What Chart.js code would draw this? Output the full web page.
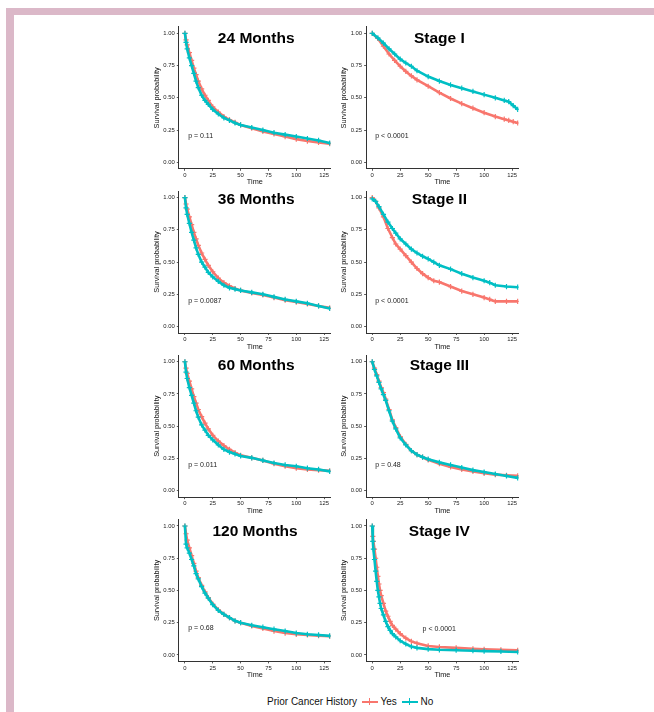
<!DOCTYPE html>
<html>
<head>
<meta charset="utf-8">
<script src="https://cdn.jsdelivr.net/npm/chart.js@4.4.0/dist/chart.umd.min.js"></script>
<style>
  body { margin: 0; width: 654px; height: 712px; background: #fff; position: relative; overflow: hidden;
         font-family: "Liberation Sans", Arial, sans-serif; }
  .frame-top { position: absolute; left: 6px; top: 8px; width: 648px; height: 7px; background: #dbb8c8; }
  .frame-left { position: absolute; left: 6px; top: 8px; width: 8px; height: 704px; background: #dbb8c8; }
  canvas.panel { position: absolute; }
  .lg { position: absolute; top: 696px; font-size: 10px; line-height: 12px; color: #111; white-space: nowrap; }
  .key { position: absolute; top: 700.7px; width: 16px; height: 2px; }
  .key::after { content: ""; position: absolute; left: 7.3px; top: -2.5px; width: 1.4px; height: 7px; background: inherit; }
</style>
</head>
<body>
<div class="frame-top"></div>
<div class="frame-left"></div>

<span class="lg" style="left:267px">Prior Cancer History</span>
<span class="key" style="left:361.5px;background:#F8766D"></span>
<span class="lg" style="left:380.5px">Yes</span>
<span class="key" style="left:401.5px;background:#00BFC4"></span>
<span class="lg" style="left:420.5px">No</span>

<script>
// ---- data ----
const xTicks = [0, 25, 50, 75, 100, 125];
const yTicks = [0, 0.25, 0.5, 0.75, 1];

const timeM24 = [0, 1, 2, 4, 6, 8, 10, 12, 15, 18, 21, 25, 30, 35, 40, 45, 50, 60, 70, 80, 90, 100, 110, 120, 130];
const yesM24  = [1, 0.95, 0.91, 0.85, 0.79, 0.73, 0.68, 0.63, 0.57, 0.52, 0.48, 0.43, 0.39, 0.355, 0.33, 0.31, 0.29, 0.265, 0.24, 0.22, 0.2, 0.18, 0.165, 0.155, 0.145];
const noM24   = [1, 0.93, 0.88, 0.81, 0.75, 0.69, 0.63, 0.58, 0.52, 0.48, 0.45, 0.41, 0.375, 0.345, 0.325, 0.305, 0.29, 0.27, 0.25, 0.23, 0.215, 0.2, 0.185, 0.17, 0.15];

const timeS1 = [0, 5, 10, 15, 20, 25, 30, 35, 40, 50, 60, 70, 80, 90, 100, 110, 118, 122, 126, 130];
const yesS1  = [1, 0.96, 0.9, 0.84, 0.79, 0.745, 0.705, 0.67, 0.64, 0.59, 0.54, 0.495, 0.455, 0.42, 0.385, 0.355, 0.335, 0.325, 0.315, 0.305];
const noS1   = [1, 0.965, 0.925, 0.88, 0.84, 0.8, 0.77, 0.745, 0.71, 0.665, 0.63, 0.6, 0.575, 0.55, 0.525, 0.5, 0.48, 0.47, 0.44, 0.41];

const timeM36 = [0, 1, 2, 4, 6, 8, 10, 12, 15, 18, 21, 25, 30, 35, 40, 45, 50, 60, 70, 80, 90, 100, 110, 120, 130];
const yesM36  = [1, 0.95, 0.91, 0.85, 0.79, 0.73, 0.68, 0.63, 0.57, 0.52, 0.475, 0.425, 0.375, 0.34, 0.315, 0.295, 0.28, 0.26, 0.245, 0.225, 0.205, 0.19, 0.175, 0.16, 0.145];
const noM36   = [1, 0.92, 0.87, 0.8, 0.73, 0.67, 0.61, 0.56, 0.5, 0.46, 0.42, 0.385, 0.35, 0.32, 0.3, 0.29, 0.28, 0.265, 0.25, 0.23, 0.21, 0.195, 0.18, 0.16, 0.14];

const timeS2 = [0, 3, 6, 10, 14, 18, 21, 25, 30, 35, 40, 45, 50, 55, 60, 70, 80, 90, 100, 105, 110, 120, 130];
const yesS2  = [1, 0.97, 0.92, 0.85, 0.76, 0.69, 0.64, 0.6, 0.55, 0.5, 0.45, 0.41, 0.38, 0.355, 0.345, 0.31, 0.275, 0.25, 0.225, 0.21, 0.195, 0.195, 0.195];
const noS2   = [0.99, 0.97, 0.93, 0.87, 0.81, 0.76, 0.725, 0.68, 0.64, 0.6, 0.57, 0.545, 0.525, 0.5, 0.475, 0.445, 0.41, 0.38, 0.355, 0.34, 0.32, 0.31, 0.305];

const timeM60 = [0, 1, 2, 4, 6, 8, 10, 12, 15, 18, 21, 25, 30, 35, 40, 45, 50, 60, 70, 80, 90, 100, 110, 120, 130];
const yesM60  = [1, 0.95, 0.91, 0.85, 0.79, 0.73, 0.68, 0.63, 0.575, 0.525, 0.48, 0.43, 0.385, 0.35, 0.32, 0.295, 0.275, 0.255, 0.235, 0.21, 0.19, 0.175, 0.165, 0.16, 0.155];
const noM60   = [1, 0.92, 0.87, 0.8, 0.74, 0.68, 0.62, 0.57, 0.51, 0.47, 0.43, 0.395, 0.355, 0.32, 0.3, 0.285, 0.27, 0.255, 0.235, 0.215, 0.2, 0.19, 0.175, 0.165, 0.15];

const timeS3 = [0, 2, 4, 6, 8, 10, 12, 15, 18, 21, 25, 30, 35, 40, 45, 50, 60, 70, 80, 90, 100, 110, 120, 130];
const yesS3  = [1, 0.95, 0.9, 0.85, 0.8, 0.76, 0.71, 0.63, 0.55, 0.49, 0.42, 0.36, 0.31, 0.28, 0.26, 0.24, 0.21, 0.185, 0.165, 0.15, 0.135, 0.125, 0.12, 0.115];
const noS3   = [1, 0.94, 0.89, 0.84, 0.79, 0.745, 0.7, 0.62, 0.54, 0.48, 0.41, 0.355, 0.31, 0.28, 0.26, 0.245, 0.22, 0.2, 0.18, 0.16, 0.145, 0.13, 0.115, 0.1];

const timeM120 = [0, 1, 2, 4, 6, 8, 10, 12, 15, 18, 21, 25, 30, 35, 40, 45, 50, 60, 70, 80, 90, 100, 110, 120, 130];
const yesM120  = [1, 0.94, 0.89, 0.83, 0.77, 0.71, 0.65, 0.6, 0.54, 0.49, 0.445, 0.395, 0.35, 0.315, 0.29, 0.265, 0.25, 0.225, 0.205, 0.185, 0.17, 0.16, 0.155, 0.15, 0.145];
const noM120   = [1, 0.86, 0.83, 0.79, 0.74, 0.69, 0.63, 0.59, 0.53, 0.48, 0.44, 0.39, 0.345, 0.315, 0.29, 0.265, 0.25, 0.23, 0.215, 0.2, 0.185, 0.17, 0.16, 0.155, 0.148];

const timeS4 = [0, 0.5, 1, 2, 3, 4, 5, 6, 7, 8, 10, 12, 14, 16, 18, 21, 25, 30, 35, 40, 50, 60, 75, 90, 100, 115, 130];
const yesS4  = [1, 0.92, 0.88, 0.82, 0.75, 0.68, 0.61, 0.55, 0.5, 0.46, 0.4, 0.34, 0.3, 0.26, 0.23, 0.2, 0.165, 0.13, 0.105, 0.09, 0.07, 0.062, 0.055, 0.048, 0.044, 0.04, 0.036];
const noS4   = [1, 0.88, 0.82, 0.74, 0.65, 0.57, 0.5, 0.45, 0.4, 0.36, 0.31, 0.26, 0.22, 0.19, 0.165, 0.14, 0.11, 0.085, 0.065, 0.055, 0.045, 0.04, 0.037, 0.033, 0.03, 0.027, 0.023];

// panel: title, p text, where they sit (time, prob), row, column
const panels = [
  { title: '24 Months',  p: 'p = 0.11',    t: timeM24,  yes: yesM24,  no: noM24,  row: 0, col: 0, tPos: [64, 0.96],  pPos: [2.9, 0.2] },
  { title: 'Stage I',    p: 'p < 0.0001',  t: timeS1,   yes: yesS1,   no: noS1,   row: 0, col: 1, tPos: [60, 0.96],  pPos: [2.7, 0.2] },
  { title: '36 Months',  p: 'p = 0.0087',  t: timeM36,  yes: yesM36,  no: noM36,  row: 1, col: 0, tPos: [64, 0.985], pPos: [2.9, 0.196] },
  { title: 'Stage II',   p: 'p < 0.0001',  t: timeS2,   yes: yesS2,   no: noS2,   row: 1, col: 1, tPos: [60, 0.985], pPos: [2.7, 0.196] },
  { title: '60 Months',  p: 'p = 0.011',   t: timeM60,  yes: yesM60,  no: noM60,  row: 2, col: 0, tPos: [64, 0.973], pPos: [2.9, 0.2] },
  { title: 'Stage III',  p: 'p = 0.48',    t: timeS3,   yes: yesS3,   no: noS3,   row: 2, col: 1, tPos: [60, 0.97],  pPos: [2.7, 0.2] },
  { title: '120 Months', p: 'p = 0.68',    t: timeM120, yes: yesM120, no: noM120, row: 3, col: 0, tPos: [63, 0.956], pPos: [2.9, 0.21] },
  { title: 'Stage IV',   p: 'p < 0.0001',  t: timeS4,   yes: yesS4,   no: noS4,   row: 3, col: 1, tPos: [60, 0.956], pPos: [45, 0.2] }
];

const RED = '#F8766D', CYAN = '#00BFC4', INK = '#222';
const FONT = '"Liberation Sans", Arial, sans-serif';
Chart.defaults.font.family = FONT;

// layout of the 2x4 grid
const areaW = 152.9, areaH = 141.9, rowPitch = 164.2, firstTop = 26.9;
const colAreaLeft = [178.8, 366.1], colCanvasLeft = [140, 328], canvasW = 196;

// in-panel title and p value, placed in data units
const panelText = {
  id: 'panelText',
  afterDatasetsDraw(chart, args, opts) {
    const { ctx, scales: { x, y } } = chart;
    ctx.save();
    ctx.fillStyle = '#000';
    ctx.textAlign = 'center';
    ctx.textBaseline = 'middle';
    ctx.font = `bold 15.5px ${FONT}`;
    ctx.fillText(opts.title, x.getPixelForValue(opts.tPos[0]), y.getPixelForValue(opts.tPos[1]));
    ctx.fillStyle = INK;
    ctx.textAlign = 'left';
    ctx.font = `7px ${FONT}`;
    ctx.fillText(opts.p, x.getPixelForValue(opts.pPos[0]), y.getPixelForValue(opts.pPos[1]));
    ctx.restore();
  }
};

function curve(label, times, vals, color) {
  return {
    label: label,
    data: times.map((t, i) => ({ x: t, y: vals[i] })),
    borderColor: color,
    backgroundColor: color,
    borderWidth: 2.6,
    pointStyle: 'cross',
    pointRadius: 2.6,
    pointBorderWidth: 1.2,
    pointBorderColor: color,
    tension: 0,
    fill: false
  };
}

panels.forEach(pn => {
  const areaTop = firstTop + rowPitch * pn.row;
  const top = Math.round(areaTop - 6);
  const padTop = areaTop - top;
  const xH = 18;
  const h = Math.ceil(padTop + areaH + xH);
  const xHeight = h - padTop - areaH;
  const yW = colAreaLeft[pn.col] - colCanvasLeft[pn.col];
  const padRight = canvasW - yW - areaW;

  const cv = document.createElement('canvas');
  cv.className = 'panel';
  cv.width = canvasW; cv.height = h;
  cv.style.left = colCanvasLeft[pn.col] + 'px';
  cv.style.top = top + 'px';
  cv.style.width = canvasW + 'px';
  cv.style.height = h + 'px';
  document.body.appendChild(cv);

  new Chart(cv, {
    type: 'line',
    data: {
      // "No" first so that it is drawn on top, like the original
      datasets: [curve('No', pn.t, pn.no, CYAN), curve('Yes', pn.t, pn.yes, RED)]
    },
    options: {
      responsive: false,
      animation: false,
      events: [],
      layout: { padding: { top: padTop, right: padRight, left: 0, bottom: 0 } },
      plugins: {
        legend: { display: false },
        tooltip: { enabled: false },
        panelText: { title: pn.title, p: pn.p, tPos: pn.tPos, pPos: pn.pPos }
      },
      scales: {
        x: {
          type: 'linear',
          min: -5.5, max: 131,
          afterBuildTicks: s => { s.ticks = xTicks.map(v => ({ value: v })); },
          afterFit: s => { s.height = xHeight; },
          grid: { drawOnChartArea: false, tickLength: 2, tickColor: '#333', tickWidth: 0.8 },
          border: { color: '#333', width: 1 },
          ticks: { font: { size: 5.9 }, color: INK, padding: 1, maxRotation: 0 },
          title: { display: true, text: 'Time', font: { size: 7.3 }, color: '#111',
                   padding: { top: 0, bottom: Math.max(0, xHeight - 13.5 - 4.38) } }
        },
        y: {
          type: 'linear',
          min: -0.05, max: 1.05,
          afterBuildTicks: s => { s.ticks = yTicks.map(v => ({ value: v })); },
          afterFit: s => { s.width = yW; },
          grid: { drawOnChartArea: false, tickLength: 2, tickColor: '#333', tickWidth: 0.8 },
          border: { color: '#333', width: 1 },
          ticks: { font: { size: 5.9 }, color: INK, padding: 2, callback: v => v.toFixed(2) },
          title: { display: true, text: 'Survival probability', font: { size: 7.3 }, color: '#111',
                   padding: { top: yW - 22 - 4.38, bottom: 0 } }
        }
      }
    },
    plugins: [panelText]
  });
});
</script>
</body>
</html>
